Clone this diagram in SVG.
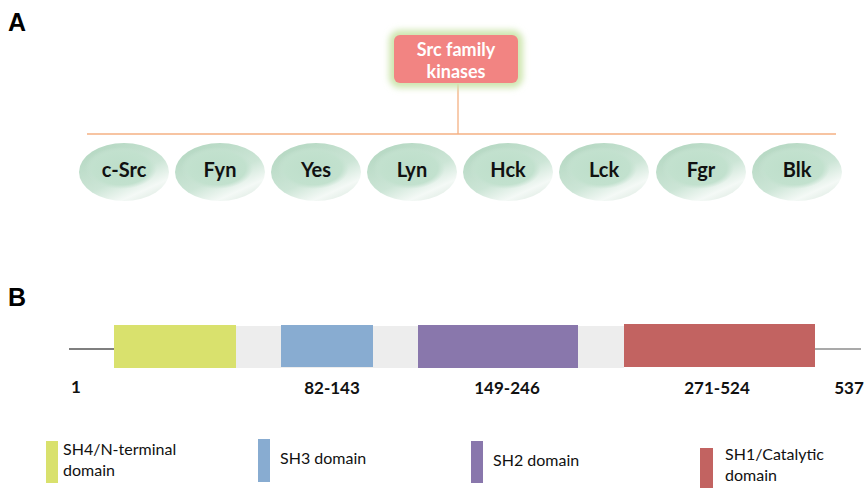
<svg xmlns="http://www.w3.org/2000/svg" width="865" height="488" viewBox="0 0 865 488">
<style>
.lbl{font-family:"Liberation Sans",Arial,sans-serif;font-weight:bold;font-size:25px;fill:#000}
.kin{font-family:Lato,"Open Sans",sans-serif;font-weight:bold;font-size:20px;fill:#111;text-anchor:middle}
.num{font-family:Lato,"Open Sans",sans-serif;font-weight:bold;font-size:17px;fill:#111;text-anchor:middle}
.leg{font-family:Lato,"Open Sans",sans-serif;font-size:16px;fill:#111}
.conn{stroke:#F4B183;stroke-width:1.3;fill:none}
</style>
<defs>
<linearGradient id="ring" x1="0.2" y1="0.1" x2="0.8" y2="0.95">
<stop offset="0" stop-color="#B7D9C4"/>
<stop offset="0.55" stop-color="#CCE5D6"/>
<stop offset="0.85" stop-color="#F4F9F6"/>
<stop offset="1" stop-color="#E3EEE7"/>
</linearGradient>
<radialGradient id="core" cx="0.5" cy="0.5" r="0.5">
<stop offset="0" stop-color="#BDDECA"/>
<stop offset="0.8" stop-color="#C2E1CE"/>
<stop offset="1" stop-color="#C8E3D3" stop-opacity="0"/>
</radialGradient>
<filter id="glow" x="-20%" y="-30%" width="140%" height="160%">
<feGaussianBlur stdDeviation="3"/>
</filter>
<g id="kn">
<ellipse cx="0" cy="0" rx="45" ry="29" fill="url(#ring)"/>
<ellipse cx="-3" cy="-4" rx="36" ry="21" fill="url(#core)"/>
</g>
</defs>

<text class="lbl" x="8" y="31">A</text>
<text class="lbl" x="8" y="306">B</text>

<g id="connectors">
<line class="conn" x1="458" y1="84" x2="458" y2="134"/>
<line class="conn" x1="87" y1="134" x2="836" y2="134"/>
</g>

<g id="src-family">
<rect x="389" y="30" width="134" height="58" rx="11" fill="#CFE6B0" filter="url(#glow)"/>
<rect x="394" y="35" width="124" height="48" rx="6" fill="#F28482"/>
<text x="456" y="56" font-family="Lato,'Open Sans',sans-serif" font-weight="bold" font-size="18" fill="#fff" text-anchor="middle">Src family</text>
<text x="456" y="78" font-family="Lato,'Open Sans',sans-serif" font-weight="bold" font-size="18" fill="#fff" text-anchor="middle">kinases</text>
</g>

<g id="c-src"><use href="#kn" x="124" y="172"/><text class="kin" x="124" y="177">c-Src</text></g>
<g id="fyn"><use href="#kn" x="220" y="172"/><text class="kin" x="220" y="177">Fyn</text></g>
<g id="yes"><use href="#kn" x="316" y="172"/><text class="kin" x="316" y="177">Yes</text></g>
<g id="lyn"><use href="#kn" x="412" y="172"/><text class="kin" x="412" y="177">Lyn</text></g>
<g id="hck"><use href="#kn" x="508" y="172"/><text class="kin" x="508" y="177">Hck</text></g>
<g id="lck"><use href="#kn" x="604" y="172"/><text class="kin" x="604" y="177">Lck</text></g>
<g id="fgr"><use href="#kn" x="701" y="172"/><text class="kin" x="701" y="177">Fgr</text></g>
<g id="blk"><use href="#kn" x="797" y="172"/><text class="kin" x="797" y="177">Blk</text></g>

<g id="protein">
<line x1="69" y1="349" x2="114" y2="349" stroke="#000" stroke-width="1.2"/>
<line x1="815" y1="349" x2="861" y2="349" stroke="#555" stroke-width="1.2"/>
<rect x="114" y="326" width="510" height="42" fill="#EDEDED"/>
<rect x="114" y="325" width="122" height="43" fill="#D9E16D"/>
<rect x="281" y="325" width="92" height="42" fill="#88ACD1"/>
<rect x="418" y="325" width="160" height="43" fill="#8977AC"/>
<rect x="624" y="324" width="191" height="43" fill="#C26361"/>
</g>

<g id="positions">
<text class="num" x="76" y="393">1</text>
<text class="num" x="332" y="394">82-143</text>
<text class="num" x="507" y="394">149-246</text>
<text class="num" x="717" y="394">271-524</text>
<text class="num" x="849" y="394">537</text>
</g>

<g id="legend">
<rect x="46" y="441" width="12" height="42" fill="#D9E16D"/>
<text class="leg" x="63" y="455">SH4/N-terminal</text>
<text class="leg" x="63" y="476">domain</text>
<rect x="258" y="439" width="12" height="43" fill="#88ACD1"/>
<text class="leg" x="280" y="464">SH3 domain</text>
<rect x="471" y="441" width="12" height="42" fill="#8977AC"/>
<text class="leg" x="493" y="466">SH2 domain</text>
<rect x="700" y="448" width="13" height="40" fill="#C26361"/>
<text class="leg" x="725" y="460">SH1/Catalytic</text>
<text class="leg" x="725" y="481">domain</text>
</g>
</svg>
